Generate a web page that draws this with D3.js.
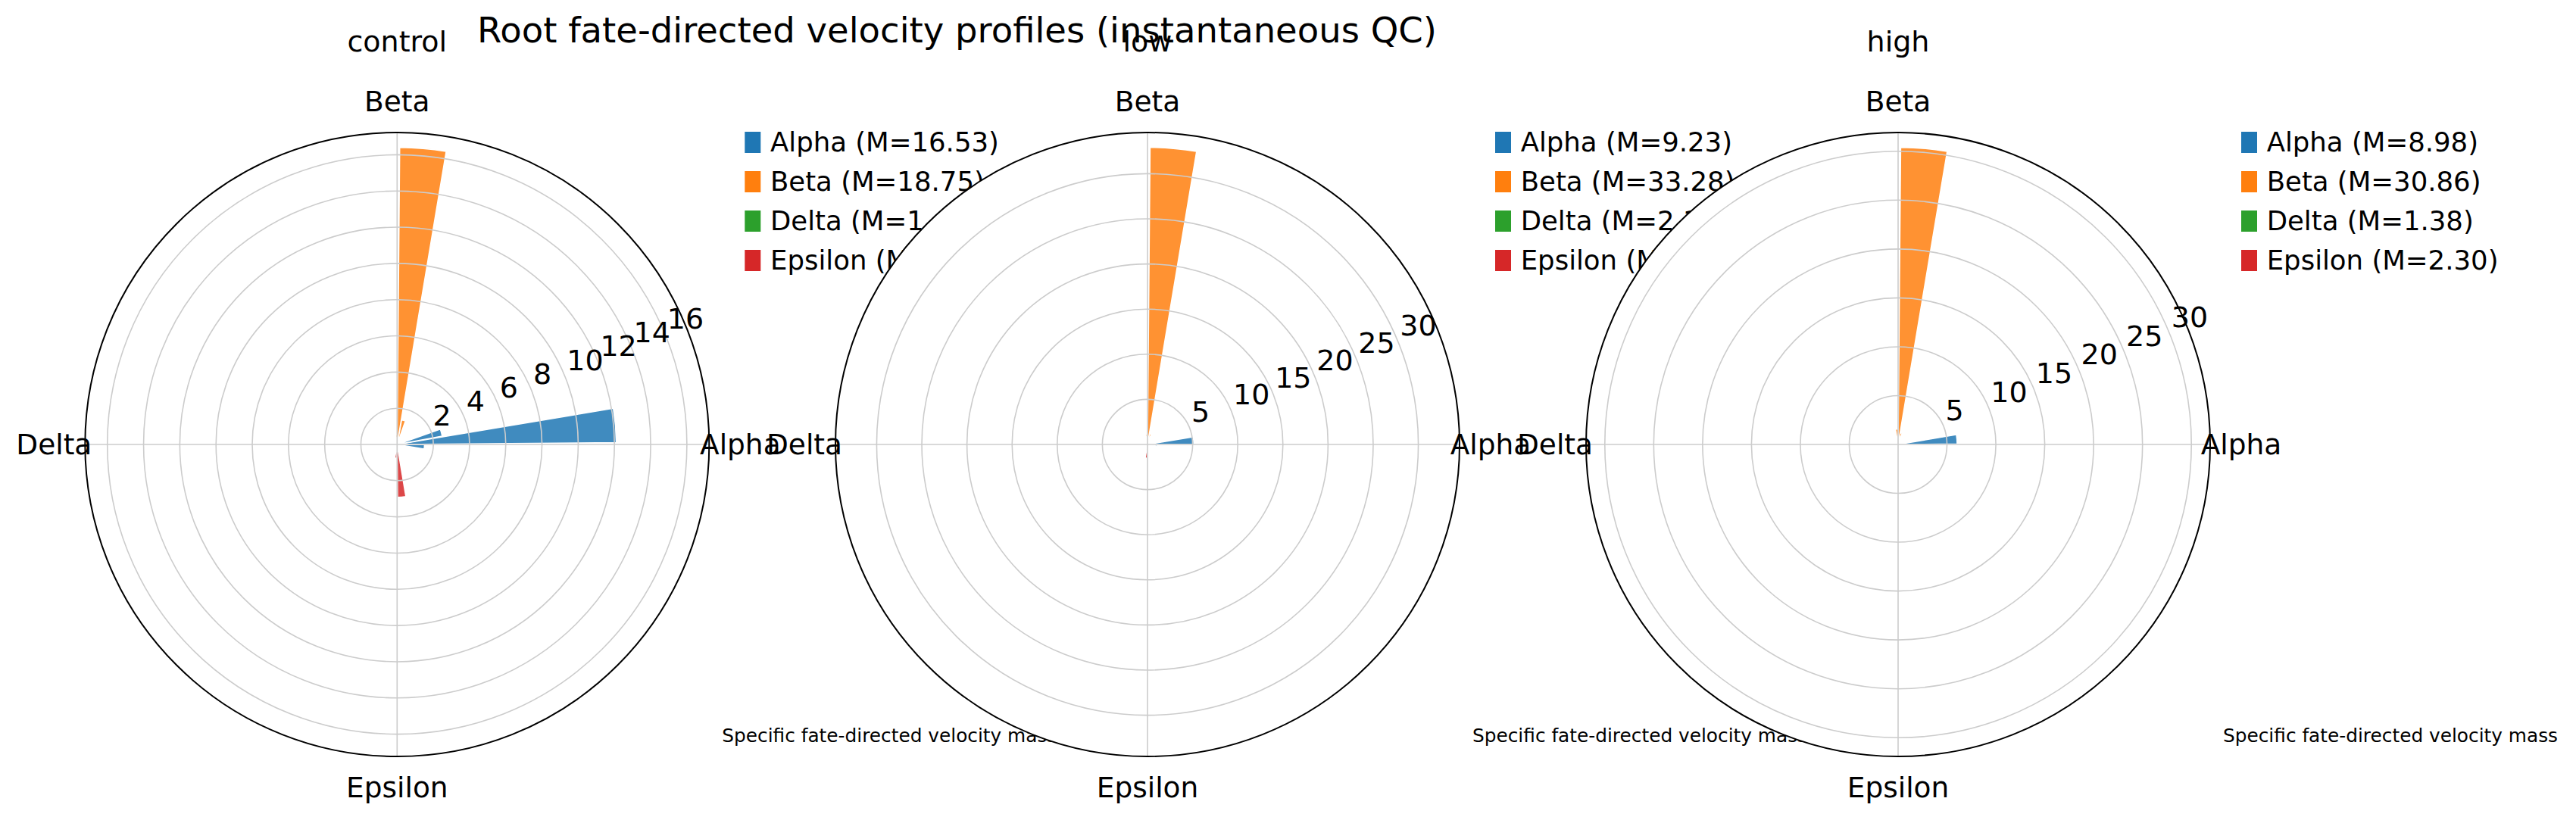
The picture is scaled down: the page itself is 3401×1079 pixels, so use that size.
<!DOCTYPE html>
<html><head><meta charset="utf-8">
<script src="https://cdn.jsdelivr.net/npm/d3@7"></script>
<style>
body{margin:0;background:#fff}
svg{display:block}
text{font-family:"DejaVu Sans",sans-serif;fill:#000}
</style>
</head><body>
<svg id="chart" width="3401" height="1079"></svg>
<script>
// ---------- data ----------
const conditions = ["control", "low", "high"];
const fates = ["Alpha", "Beta", "Delta", "Epsilon"];
const fateAngles = [0, 90, 180, 270];            // theta tick positions (deg, ccw from east)
const fateColors = ["#1f77b4", "#ff7f0e", "#2ca02c", "#d62728"];

// legend masses per condition (Alpha, Beta, Delta, Epsilon)
const massControl = [16.53, 18.75, 1.47, 3.52];
const massLow     = [9.23, 33.28, 2.16, 1.48];
const massHigh    = [8.98, 30.86, 1.38, 2.30];

// angular histogram bars: bin start angle (deg), height, fate
const binWidthDeg = 10;
const controlBarStart = [0, 10, 350, 70, 80, 90, 260, 270];
const controlBarValue = [12.1, 2.53, 1.51, 1.37, 16.41, 0.53, 0.75, 2.92];
const controlBarFate  = ["Alpha", "Alpha", "Alpha", "Beta", "Beta", "Beta", "Epsilon", "Epsilon"];

const lowBarStart = [0, 350, 70, 80, 90, 260];
const lowBarValue = [5.13, 1.1, 1.2, 32.92, 1.15, 1.5];
const lowBarFate  = ["Alpha", "Alpha", "Beta", "Beta", "Beta", "Epsilon"];

const highBarStart = [0, 70, 80, 90];
const highBarValue = [6.04, 1.2, 30.4, 1.58];
const highBarFate  = ["Alpha", "Beta", "Beta", "Beta"];

const suptitle = "Root fate-directed velocity profiles (instantaneous QC)";
const footnote = "Specific fate-directed velocity mass";

// ---------- layout ----------
const svg = d3.select("#chart");
const panelCx = [524.3, 1515, 2506];
const panelCy = 587;
const R = 412;
const legendDx = [459, 459, 453];
const panels = [
  {name: conditions[0], mass: massControl, start: controlBarStart, value: controlBarValue, fate: controlBarFate},
  {name: conditions[1], mass: massLow, start: lowBarStart, value: lowBarValue, fate: lowBarFate},
  {name: conditions[2], mass: massHigh, start: highBarStart, value: highBarValue, fate: highBarFate}
];
const color = d3.scaleOrdinal(fates, fateColors);
const toRad = d => d * Math.PI / 180;
// math angle (ccw from east) -> screen xy
const pt = (deg, r) => [r * Math.cos(toRad(deg)), -r * Math.sin(toRad(deg))];

panels.forEach((p, i) => {
  const cx = panelCx[i];
  const bars = p.start.map((s, k) => ({start: s, value: p.value[k], fate: p.fate[k]}));
  const maxV = d3.max(bars, d => d.value);
  const r = d3.scaleLinear().domain([0, maxV * 1.05]).range([0, R]);
  const ticks = r.ticks().filter(t => t > 0);

  const g = svg.append("g").attr("transform", `translate(${cx},${panelCy})`);
  // axes background
  g.append("circle").attr("r", R).attr("fill", "#fff");

  // bars (d3.arc: 0 = up, clockwise)
  const pad = 0.05 * binWidthDeg;
  const arc = d3.arc()
    .innerRadius(0)
    .outerRadius(d => r(d.value))
    .startAngle(d => toRad(90 - (d.start + binWidthDeg - pad)))
    .endAngle(d => toRad(90 - (d.start + pad)));
  g.selectAll("path.bar").data(bars).join("path")
    .attr("class", "bar")
    .attr("d", arc)
    .attr("fill", d => color(d.fate))
    .attr("fill-opacity", 0.85)
    .attr("stroke", "#fff")
    .attr("stroke-width", 1.5);

  // grid (drawn above bars)
  g.selectAll("circle.grid").data(ticks).join("circle")
    .attr("class", "grid")
    .attr("r", d => r(d))
    .attr("fill", "none")
    .attr("stroke", "#cccccc")
    .attr("stroke-width", 1.6);
  g.selectAll("line.grid").data(fateAngles).join("line")
    .attr("class", "grid")
    .attr("x1", 0).attr("y1", 0)
    .attr("x2", d => pt(d, R)[0]).attr("y2", d => pt(d, R)[1])
    .attr("stroke", "#cccccc")
    .attr("stroke-width", 1.6);

  // spine
  g.append("circle").attr("r", R).attr("fill", "none").attr("stroke", "#000").attr("stroke-width", 2);

  // theta labels
  g.selectAll("text.theta").data(fates).join("text")
    .attr("class", "theta")
    .attr("x", (d, k) => pt(fateAngles[k], R + 41)[0])
    .attr("y", (d, k) => pt(fateAngles[k], R + 41)[1])
    .attr("text-anchor", "middle")
    .attr("dominant-baseline", "central")
    .attr("font-size", 37.5)
    .text(d => d);

  // r tick labels at 22.5 deg
  g.selectAll("text.rtick").data(ticks).join("text")
    .attr("class", "rtick")
    .attr("x", d => pt(22.5, r(d))[0] + 3)
    .attr("y", d => pt(22.5, r(d))[1] - 7)
    .attr("font-size", 38)
    .text(d => d);

  // subplot title
  svg.append("text")
    .attr("x", cx).attr("y", 68)
    .attr("text-anchor", "middle")
    .attr("font-size", 38)
    .text(p.name);

  // legend
  const lg = svg.append("g").attr("transform", `translate(${cx + legendDx[i]},174)`);
  fates.forEach((f, k) => {
    lg.append("rect").attr("x", 0).attr("y", k * 52).attr("width", 21).attr("height", 28)
      .attr("fill", color(f));
    lg.append("text").attr("x", 33.7).attr("y", k * 52 + 26.3)
      .attr("font-size", 35.5)
      .text(`${f} (M=${p.mass[k].toFixed(2)})`);
  });

  // footnote
  svg.append("text")
    .attr("x", cx + 429).attr("y", 980)
    .attr("font-size", 24.8)
    .text(footnote);
});

svg.append("text")
  .attr("x", 1263.5).attr("y", 55.5)
  .attr("text-anchor", "middle")
  .attr("font-size", 46.5)
  .text(suptitle);
</script>
</body></html>
